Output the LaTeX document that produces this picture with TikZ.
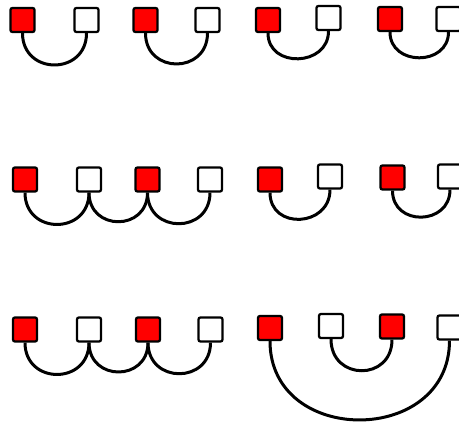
\documentclass[tikz,border=0pt]{standalone}
\begin{document}
\begin{tikzpicture}[x=1pt, y=1pt,
    sq/.style={draw, line width=2.3pt, rounded corners=2pt, minimum size=24pt, inner sep=0pt},
    redsq/.style={sq, fill=red},
    whitesq/.style={sq, fill=white},
    link/.style={line width=3pt, out=-90, in=-90, looseness=1.7}]
    \useasboundingbox (0,0) rectangle (459,-423);

    % first row
    \node[redsq]   (a1) at (22.5,-20) {};
    \node[whitesq] (a2) at (86.5,-20) {};
    \node[redsq]   (a3) at (145.5,-20) {};
    \node[whitesq] (a4) at (207.5,-20) {};
    \node[redsq]   (a5) at (268,-20) {};
    \node[whitesq] (a6) at (328.5,-18) {};
    \node[redsq]   (a7) at (390,-19) {};
    \node[whitesq] (a8) at (448.5,-19) {};
    \draw[link] (a1.south) to (a2.south);
    \draw[link] (a3.south) to (a4.south);
    \draw[link, looseness=1.5] (a5.south) to (a6.south);
    \draw[link, looseness=1.5] (a7.south) to (a8.south);

    % second row
    \node[redsq]   (b1) at (25,-179.5) {};
    \node[whitesq] (b2) at (89,-179.5) {};
    \node[redsq]   (b3) at (147.5,-179.5) {};
    \node[whitesq] (b4) at (210,-179.5) {};
    \node[redsq]   (b5) at (270,-179.5) {};
    \node[whitesq] (b6) at (330,-176.5) {};
    \node[redsq]   (b7) at (392.5,-177.5) {};
    \node[whitesq] (b8) at (450,-176.5) {};
    \draw[link] (b1.south) to (b2.south);
    \draw[link] (b2.south) to (b3.south);
    \draw[link] (b3.south) to (b4.south);
    \draw[link, looseness=1.6] (b5.south) to (b6.south);
    \draw[link, looseness=1.6] (b7.south) to (b8.south);

    % third row
    \node[redsq]   (c1) at (25,-329.5) {};
    \node[whitesq] (c2) at (89,-329.5) {};
    \node[redsq]   (c3) at (148,-329.5) {};
    \node[whitesq] (c4) at (210.5,-329.5) {};
    \node[redsq]   (c5) at (270,-328) {};
    \node[whitesq] (c6) at (331,-326) {};
    \node[redsq]   (c7) at (392,-326.5) {};
    \node[whitesq] (c8) at (449.5,-327.5) {};
    \draw[link] (c1.south) to (c2.south);
    \draw[link] (c2.south) to (c3.south);
    \draw[link] (c3.south) to (c4.south);
    \draw[link, looseness=1.75] (c6.south) to (c7.south);
    \draw[link, looseness=1.5] (c5.south) to (c8.south);
\end{tikzpicture}
\end{document}
